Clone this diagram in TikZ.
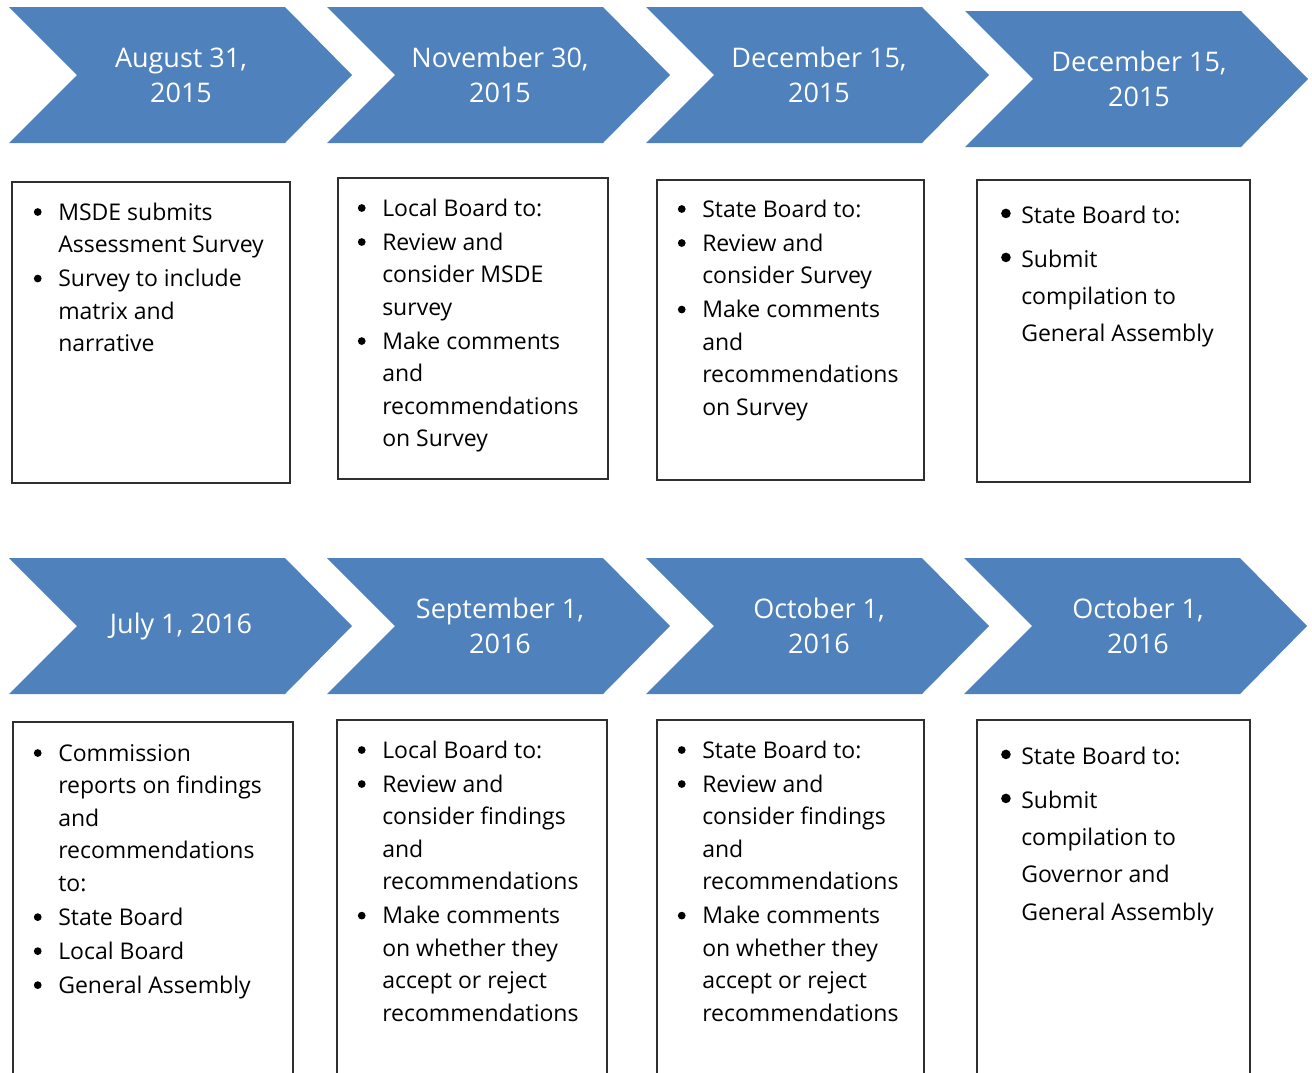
\documentclass[tikz,border=0pt]{standalone}
\usepackage{fontspec}
\setmainfont{Open Sans}
\definecolor{chevblue}{HTML}{4F81BD}
\definecolor{framegray}{HTML}{2F2F2F}
\tikzset{
  chevron/.style={fill=chevblue, draw=none},
  datetext/.style={text=white, font=\fontsize{20.25}{26.25}\selectfont, align=center, inner sep=0pt},
  boxframe/.style={draw=framegray, line width=0.95pt},
  bodytext/.style={inner sep=0pt, anchor=base west, font=\fontsize{17.25}{24.4}\selectfont},
  widetext/.style={inner sep=0pt, anchor=base west, font=\fontsize{17.25}{28.1}\selectfont},
}
\newcommand\bul{\hspace*{-15.4pt}\makebox[0pt]{\tikz[baseline=0pt]\fill[black] (0pt,6pt) circle[radius=2.9pt];}\hspace*{15.4pt}}
\newcommand\bigbul{\hspace*{-11.5pt}\makebox[0pt]{\tikz[baseline=0pt]\fill[black] (0pt,7.2pt) circle[radius=3.6pt];}\hspace*{11.5pt}}
\newcommand\gap{\\[1.1pt]}
\newcommand\wgap{\\[4.9pt]}
\begin{document}
\begin{tikzpicture}[x=0.75pt,y=-0.75pt]
\useasboundingbox (0,0) rectangle (1312,1072);
\clip (0,0) rectangle (1312,1072);
% ---------- top row chevrons ----------
\path[chevron] (9,7) -- ++(276,0) -- ++(67,68) -- ++(-67,68) -- ++(-276,0) -- ++(68,-68) -- cycle;
\node[datetext] (d1) at (181,75) {August 31,\\2015};
\path[chevron] (327,7) -- ++(276,0) -- ++(67,68) -- ++(-67,68) -- ++(-276,0) -- ++(68,-68) -- cycle;
\node[datetext] (d2) at (500,75) {November 30,\\2015};
\path[chevron] (646,7) -- ++(276,0) -- ++(67,68) -- ++(-67,68) -- ++(-276,0) -- ++(68,-68) -- cycle;
\node[datetext] (d3) at (819,75) {December 15,\\2015};
\path[chevron] (965,11) -- ++(276,0) -- ++(67,68) -- ++(-67,68) -- ++(-276,0) -- ++(68,-68) -- cycle;
\node[datetext] (d4) at (1139,79) {December 15,\\2015};
% ---------- top row boxes ----------
\draw[boxframe] (12,182) rectangle (290,483);
\node[bodytext] (b1) at (58,220) {\parbox[t]{240pt}{\bul MSDE submits\\Assessment Survey\gap\bul Survey to include\\matrix and\\narrative}};
\draw[boxframe] (338,178) rectangle (608,479);
\node[bodytext] (b2) at (382,216) {\parbox[t]{240pt}{\bul Local Board to:\gap\bul Review and\\consider MSDE\\survey\gap\bul Make comments\\and\\recommendations\\on Survey}};
\draw[boxframe] (657,180) rectangle (924,480);
\node[bodytext] (b3) at (702,217) {\parbox[t]{240pt}{\bul State Board to:\gap\bul Review and\\consider Survey\gap\bul Make comments\\and\\recommendations\\on Survey}};
\draw[boxframe] (977,180) rectangle (1250,482);
\node[widetext] (b4) at (1021,223) {\parbox[t]{240pt}{\bigbul State Board to:\wgap\bigbul Submit\\compilation to\\General Assembly}};
% ---------- bottom row chevrons ----------
\path[chevron] (9,558) -- ++(276,0) -- ++(67,68) -- ++(-67,68) -- ++(-276,0) -- ++(68,-68) -- cycle;
\node[datetext] (d5) at (181,626) {July 1, 2016};
\path[chevron] (327,558) -- ++(276,0) -- ++(67,68) -- ++(-67,68) -- ++(-276,0) -- ++(68,-68) -- cycle;
\node[datetext] (d6) at (500,626) {September 1,\\2016};
\path[chevron] (646,558) -- ++(276,0) -- ++(67,68) -- ++(-67,68) -- ++(-276,0) -- ++(68,-68) -- cycle;
\node[datetext] (d7) at (819,626) {October 1,\\2016};
\path[chevron] (964,558) -- ++(276,0) -- ++(67,68) -- ++(-67,68) -- ++(-276,0) -- ++(68,-68) -- cycle;
\node[datetext] (d8) at (1138,626) {October 1,\\2016};
% ---------- bottom row boxes (run off the bottom edge) ----------
\draw[boxframe] (13,1080) -- (13,722) -- (293,722) -- (293,1080);
\node[bodytext] (b5) at (58,761) {\parbox[t]{240pt}{\bul Commission\\reports on findings\\and\\recommendations\\to:\gap\bul State Board\gap\bul Local Board\gap\bul General Assembly}};
\draw[boxframe] (337,1080) -- (337,720) -- (607,720) -- (607,1080);
\node[bodytext] (b6) at (382,758) {\parbox[t]{240pt}{\bul Local Board to:\gap\bul Review and\\consider findings\\and\\recommendations\gap\bul Make comments\\on whether they\\accept or reject\\recommendations}};
\draw[boxframe] (657,1080) -- (657,720) -- (924,720) -- (924,1080);
\node[bodytext] (b7) at (702,758) {\parbox[t]{240pt}{\bul State Board to:\gap\bul Review and\\consider findings\\and\\recommendations\gap\bul Make comments\\on whether they\\accept or reject\\recommendations}};
\draw[boxframe] (977,1080) -- (977,720) -- (1250,720) -- (1250,1080);
\node[widetext] (b8) at (1021,764) {\parbox[t]{240pt}{\bigbul State Board to:\wgap\bigbul Submit\\compilation to\\Governor and\\General Assembly}};
\end{tikzpicture}
\end{document}
